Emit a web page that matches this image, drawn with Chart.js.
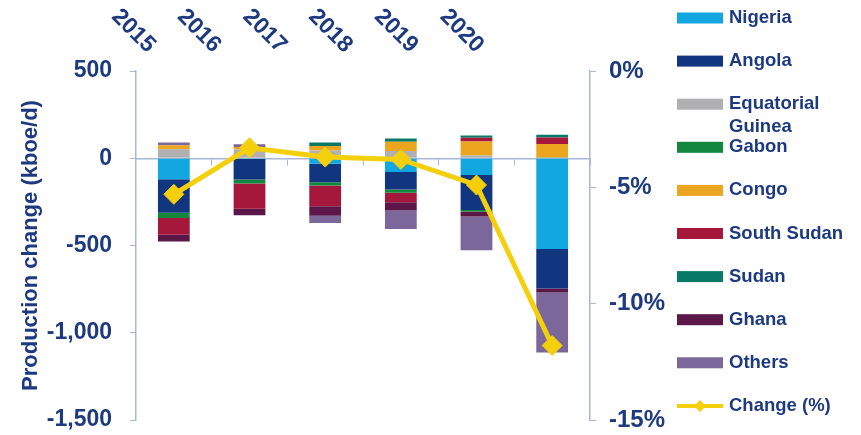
<!DOCTYPE html>
<html>
<head>
<meta charset="utf-8">
<script src="https://cdn.jsdelivr.net/npm/chart.js@4.4.1/dist/chart.umd.min.js"></script>
<style>
  html, body { margin: 0; padding: 0; background: #ffffff; }
  #wrap { width: 861px; height: 435px; }
</style>
</head>
<body>
<div id="wrap"><canvas id="chart" width="861" height="435"></canvas></div>
<script>
// Categories
const years = ['2015', '2016', '2017', '2018', '2019', '2020'];

// Production change by country (kboe/d)
const nigeria    = [-121,   -5,  -32,  -79,  -96, -520];
const angola     = [-191, -117, -105, -100, -201, -226];
const eqGuinea   = [  52,   50,   45,   42,   16,    0];
const gabon      = [ -31,  -23,  -19,  -19,   -8,    5];
const congo      = [  23,   15,   25,   52,   80,   76];
const southSudan = [ -96, -144, -119,  -54,   21,   38];
const sudan      = [   0,    0,   20,   19,   13,   15];
const ghana      = [ -38,  -38,  -54,  -48,  -29,  -23];
const others     = [  15,   15,  -42, -105, -193, -344];

// Total change (%)
const changePct  = [-5.3, -3.3, -3.7, -3.8, -4.9, -11.8];

// Axis ticks
const leftTicks  = [500, 0, -500, -1000, -1500];
const rightTicks = [0, -5, -10, -15];

const NAVY = '#1d3a80';
const AXIS = '#a7b8d8';
const FONT = "'Liberation Sans', Arial, Helvetica, sans-serif";

const barSeries = [
  { label: 'Nigeria',           data: nigeria,    color: '#13a7e1' },
  { label: 'Angola',            data: angola,     color: '#12357f' },
  { label: 'Equatorial Guinea', data: eqGuinea,   color: '#b0b0b2' },
  { label: 'Gabon',             data: gabon,      color: '#12883f' },
  { label: 'Congo',             data: congo,      color: '#eca51e' },
  { label: 'South Sudan',       data: southSudan, color: '#a5183c' },
  { label: 'Sudan',             data: sudan,      color: '#0a7a68' },
  { label: 'Ghana',             data: ghana,      color: '#5a1747' },
  { label: 'Others',            data: others,     color: '#7b6799' }
];
const LINE_COLOR = '#f3cf0c';

const datasets = barSeries.map(s => ({
  type: 'bar',
  label: s.label,
  data: s.data,
  backgroundColor: s.color,
  borderWidth: 0,
  stack: 'production',
  yAxisID: 'y',
  order: 1,
  categoryPercentage: 0.42,
  barPercentage: 1
}));
datasets.push({
  type: 'line',
  label: 'Change (%)',
  data: changePct,
  yAxisID: 'y1',
  borderColor: LINE_COLOR,
  backgroundColor: LINE_COLOR,
  borderWidth: 5,
  pointStyle: 'rectRot',
  pointRadius: 10,
  pointBackgroundColor: LINE_COLOR,
  pointBorderColor: LINE_COLOR,
  pointBorderWidth: 1,
  tension: 0,
  order: 0
});

// Year labels along the top, slanted down to the right
const yearLabels = {
  id: 'yearLabels',
  afterDraw(chart) {
    const { ctx, chartArea } = chart;
    const xs = chart.scales.x;
    const spread = 0.868;
    ctx.save();
    ctx.font = `bold 23px ${FONT}`;
    ctx.fillStyle = NAVY;
    ctx.textAlign = 'center';
    ctx.textBaseline = 'middle';
    years.forEach((y, i) => {
      const px = xs.getPixelForValue(i);
      const cx = chartArea.left + spread * (px - chartArea.left) - 35.5;
      ctx.save();
      ctx.translate(cx, 31);
      ctx.rotate(Math.PI / 4);
      ctx.fillText(y, 0, 0);
      ctx.restore();
    });
    ctx.restore();
  }
};

// Legend column on the right
const sideLegend = {
  id: 'sideLegend',
  afterDraw(chart) {
    const { ctx } = chart;
    const x0 = 677, boxW = 46, boxH = 11, textX = 729, top = 18, step = 43.1;
    const maxTextW = 128, lineH = 23;
    ctx.save();
    ctx.font = `bold 18.5px ${FONT}`;
    ctx.textBaseline = 'middle';
    ctx.textAlign = 'left';
    chart.data.datasets.forEach((ds, i) => {
      const cy = top + i * step;
      if (ds.type === 'line') {
        ctx.strokeStyle = ds.borderColor;
        ctx.lineWidth = 4;
        ctx.beginPath();
        ctx.moveTo(x0, cy);
        ctx.lineTo(x0 + boxW, cy);
        ctx.stroke();
        const cx = x0 + boxW / 2, r = 6;
        ctx.fillStyle = ds.borderColor;
        ctx.beginPath();
        ctx.moveTo(cx - r, cy);
        ctx.lineTo(cx, cy - r);
        ctx.lineTo(cx + r, cy);
        ctx.lineTo(cx, cy + r);
        ctx.closePath();
        ctx.fill();
      } else {
        ctx.fillStyle = ds.backgroundColor;
        ctx.fillRect(x0, cy - boxH / 2, boxW, boxH);
      }
      // wrap text that does not fit beside the swatch
      const words = ds.label.split(' ');
      const lines = [];
      let cur = '';
      words.forEach(w => {
        const trial = cur ? cur + ' ' + w : w;
        if (cur && ctx.measureText(trial).width > maxTextW) { lines.push(cur); cur = w; }
        else cur = trial;
      });
      lines.push(cur);
      ctx.fillStyle = NAVY;
      lines.forEach((ln, k) => ctx.fillText(ln, textX, cy + k * lineH));
    });
    ctx.restore();
  }
};

// Keep vertical axes from reserving extra room for their end labels
function fixAxisBox(width) {
  return s => {
    s.width = width;
    s.paddingTop = 0;
    s.paddingBottom = 0;
  };
}

new Chart(document.getElementById('chart'), {
  type: 'bar',
  data: { labels: years, datasets },
  options: {
    responsive: false,
    animation: false,
    devicePixelRatio: 1,
    layout: { padding: { left: 0, right: 181, top: 71, bottom: 15 } },
    plugins: { legend: { display: false }, tooltip: { enabled: false } },
    scales: {
      x: {
        type: 'category',
        position: { y: 0 },
        stacked: true,
        offset: true,
        ticks: { display: false },
        grid: { display: true, drawOnChartArea: false, drawTicks: true, tickLength: 6, color: AXIS, offset: true },
        border: { display: true, color: AXIS, width: 1.5 },
        afterFit(s) { s.height = 0; }
      },
      y: {
        position: 'left',
        stacked: true,
        min: Math.min(...leftTicks),
        max: Math.max(...leftTicks),
        afterBuildTicks(s) { s.ticks = leftTicks.map(v => ({ value: v })); },
        ticks: {
          color: NAVY,
          padding: 18,
          font: { size: 23, weight: 'bold', family: FONT },
          callback: v => v.toLocaleString('en-US')
        },
        grid: { drawOnChartArea: false, tickLength: 6, color: AXIS },
        border: { color: AXIS, width: 1.5 },
        title: {
          display: true,
          text: 'Production change (kboe/d)',
          color: NAVY,
          font: { size: 22, weight: 'bold', family: FONT },
          padding: { top: 18, bottom: 0 }
        },
        afterFit: fixAxisBox(136)
      },
      y1: {
        position: 'right',
        min: Math.min(...rightTicks),
        max: Math.max(...rightTicks),
        afterBuildTicks(s) { s.ticks = rightTicks.map(v => ({ value: v })); },
        ticks: {
          color: NAVY,
          padding: 13,
          font: { size: 24, weight: 'bold', family: FONT },
          callback: v => v + '%'
        },
        grid: { drawOnChartArea: false, tickLength: 6, color: AXIS },
        border: { color: AXIS, width: 1.5 },
        afterFit: fixAxisBox(90)
      }
    }
  },
  plugins: [yearLabels, sideLegend]
});
</script>
</body>
</html>
